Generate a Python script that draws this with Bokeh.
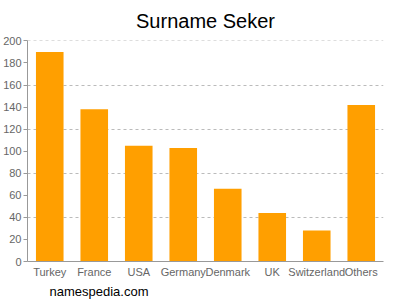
from bokeh.plotting import figure
from bokeh.models import FixedTicker, Range1d, FactorRange, Title, ColumnDataSource
from bokeh.embed import file_html
from bokeh.resources import INLINE

countries = ["Turkey", "France", "USA", "Germany", "Denmark", "UK", "Switzerland", "Others"]
counts = [190, 138, 105, 103, 66, 44, 28, 142]
y_ticks = [0, 20, 40, 60, 80, 100, 120, 140, 160, 180, 200]
grid_ticks = [40, 80, 120, 160, 200]

src = ColumnDataSource(dict(country=countries, count=counts))

p = figure(width=400, height=300, x_range=FactorRange(*countries, range_padding=0),
           y_range=Range1d(0, 200.4), output_backend="svg", toolbar_location=None,
           min_border_left=24, min_border_right=17, min_border_top=40, min_border_bottom=5)
p.vbar(x="country", top="count", width=0.62, source=src, color="#ff9f00", line_color=None)

p.title.text = "Surname Seker"
p.title.align = "center"
p.title.vertical_align = "top"
p.title.text_font = "Liberation Sans"
p.title.text_font_size = "20px"
p.title.text_font_style = "normal"
p.title.text_color = "#000000"
p.title.standoff = 14

p.outline_line_color = None
p.xgrid.grid_line_color = None
p.ygrid.ticker = FixedTicker(ticks=grid_ticks)
p.ygrid.grid_line_color = "#bbbbbb"
p.ygrid.grid_line_dash = "3 3"

p.yaxis.ticker = FixedTicker(ticks=y_ticks)
for ax in (p.xaxis, p.yaxis):
    ax.axis_line_color = "#999999"
    ax.major_label_text_font = "Liberation Sans"
    ax.major_label_text_font_size = "11px"
    ax.major_label_text_color = "#666666"
    ax.minor_tick_line_color = None
    ax.minor_tick_out = 0
    ax.minor_tick_in = 0
p.yaxis.major_tick_line_color = "#999999"
p.yaxis.major_tick_in = 0
p.yaxis.major_tick_out = 4
p.yaxis.major_label_standoff = 2
p.xaxis.major_tick_line_color = None
p.xaxis.major_tick_in = 0
p.xaxis.major_tick_out = 0
p.xaxis.major_label_standoff = 4

p.add_layout(Title(text="namespedia.com", align="left", text_font="Liberation Sans",
                   text_font_size="13px", text_font_style="normal", text_color="#000000",
                   offset=22, standoff=3), "below")

open("out.html", "w").write(file_html(p, INLINE))
